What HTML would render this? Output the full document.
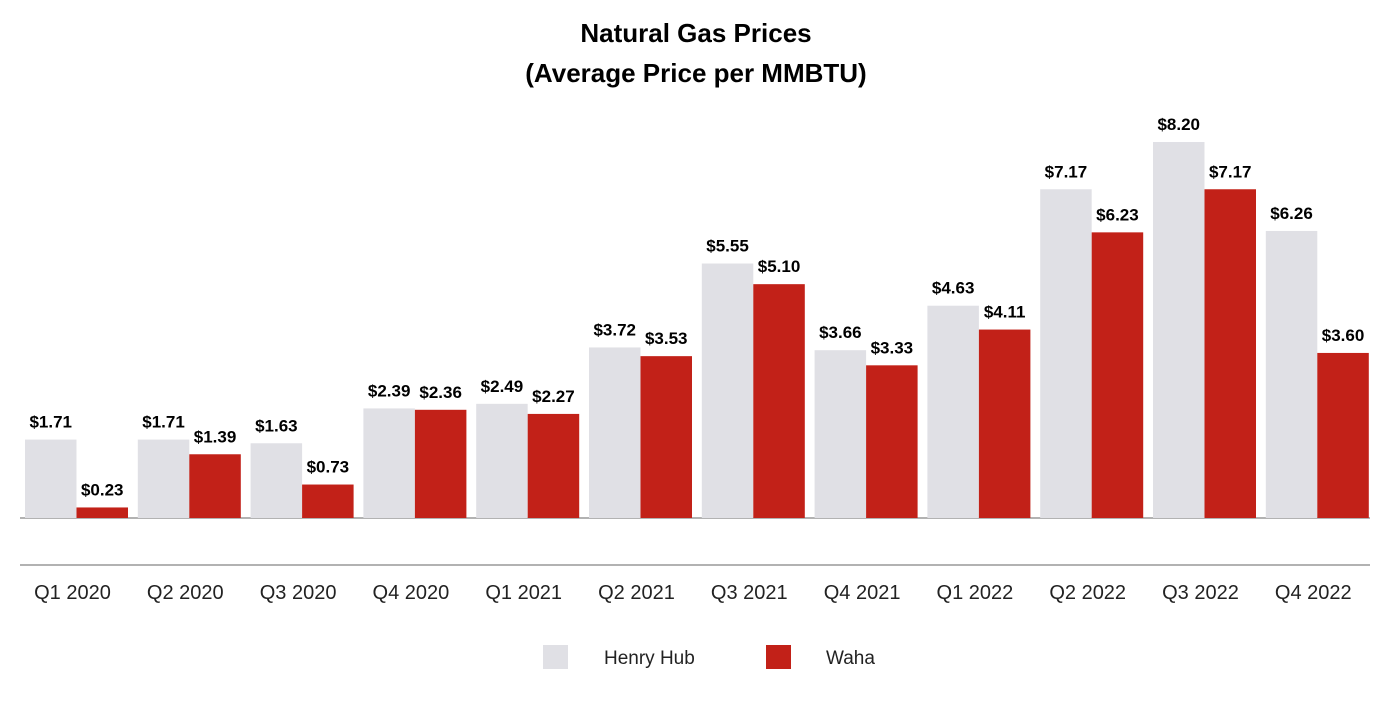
<!DOCTYPE html>
<html><head><meta charset="utf-8"><style>
body{margin:0;background:#fff;}
svg text{font-family:"Liberation Sans Narrow","Liberation Sans",Arial,sans-serif;}
</style></head><body>
<svg id="chart" width="1392" height="700" viewBox="0 0 1392 700">
<text x="696" y="42" text-anchor="middle" font-size="26" font-weight="bold" fill="#000">Natural Gas Prices</text>
<text x="696" y="82" text-anchor="middle" font-size="26" font-weight="bold" fill="#000">(Average Price per MMBTU)</text>
<line x1="20" y1="518" x2="1370" y2="518" stroke="#999" stroke-width="1.5"/>
<line x1="20" y1="565" x2="1370" y2="565" stroke="#999" stroke-width="1.5"/>
<g id="bars"></g>
<rect x="543" y="645" width="25" height="24" fill="#e0e0e5"/>
<text x="604" y="664" font-size="19" fill="#222">Henry Hub</text>
<rect x="766" y="645" width="25" height="24" fill="#c22118"/>
<text x="826" y="664" font-size="19" fill="#222">Waha</text>
</svg>
<script>
const categories=["Q1 2020","Q2 2020","Q3 2020","Q4 2020","Q1 2021","Q2 2021","Q3 2021","Q4 2021","Q1 2022","Q2 2022","Q3 2022","Q4 2022"];
const henryHub=[1.71,1.71,1.63,2.39,2.49,3.72,5.55,3.66,4.63,7.17,8.20,6.26];
const waha=[0.23,1.39,0.73,2.36,2.27,3.53,5.10,3.33,4.11,6.23,7.17,3.60];
const NS="http://www.w3.org/2000/svg";
const g=document.getElementById('bars');
const baseY=518, scale=45.85, x0=25, pitch=112.8, bw=51.5;
function yPos(v){return baseY-v*scale;}
function xPos(i){return x0+i*pitch;}
function mk(tag,attrs){const e=document.createElementNS(NS,tag);for(const k in attrs)e.setAttribute(k,attrs[k]);g.appendChild(e);return e;}
categories.forEach((c,i)=>{
  [[henryHub,'#e0e0e5','henry-hub',0],[waha,'#c22118','waha',1]].forEach(([arr,col,nm,k])=>{
    const v=arr[i];const x=xPos(i)+k*bw;
    const r=mk('rect',{x:x,y:yPos(v),width:bw,height:v*scale,fill:col});
    
    
    const t=mk('text',{x:x+bw/2,y:yPos(v)-12,'text-anchor':'middle','font-size':'17','font-weight':'bold',fill:'#000'});
    t.textContent='$'+v.toFixed(2);
    
    
  });
  const l=mk('text',{x:xPos(i)+bw-4,y:599,'text-anchor':'middle','font-size':'20',fill:'#222'});
  l.textContent=c;
  
  
});
</script>
</body></html>
